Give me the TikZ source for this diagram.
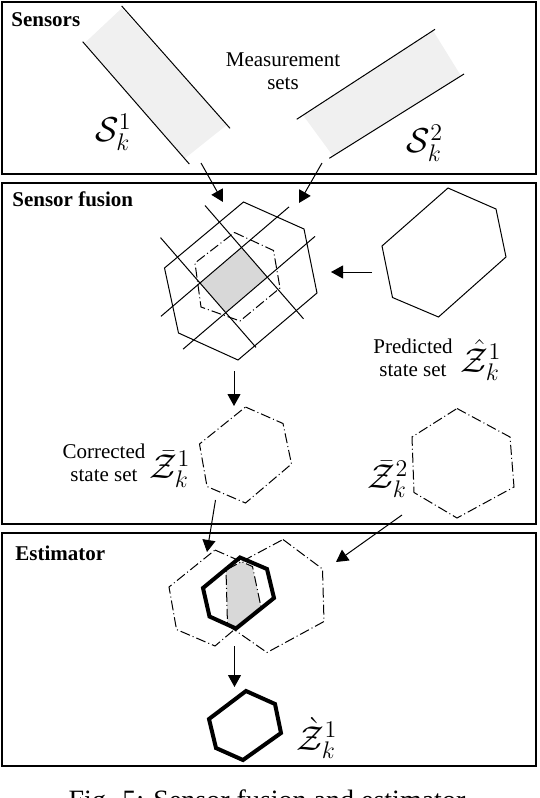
\documentclass[tikz,border=0pt]{standalone}
\usepackage[no-math]{fontspec}
\setmainfont{Liberation Serif}
\usetikzlibrary{arrows.meta}
\definecolor{stripgray}{RGB}{240,240,240}
\definecolor{setgray}{RGB}{216,216,216}
\tikzstyle{panel} = [line width=1.4pt]
\tikzstyle{edge} = [line width=0.5pt]
\tikzstyle{dashdot} = [line width=0.5pt, dash pattern=on 5pt off 1.5pt on 0.5pt off 1.5pt]
\tikzstyle{estimate} = [line width=2pt, line join=miter]
\tikzstyle{arrow} = [line width=0.5pt, -{Triangle[length=6pt,width=6.5pt]}]
\tikzstyle{title} = [anchor=base west, inner sep=0pt, font=\fontsize{10.5}{12}\selectfont\bfseries]
\tikzstyle{note} = [anchor=north, inner sep=0pt, align=center, font=\fontsize{10.5}{11.5}\selectfont]
\tikzstyle{setname} = [inner sep=0pt, font=\fontsize{16.5}{19}\selectfont]

\begin{document}
\begin{tikzpicture}[x=0.5pt, y=-0.5pt]
\useasboundingbox (0,0) rectangle (540,798);

% Panels
\draw[panel] (2,2) rectangle (536,174);
\draw[panel] (2,183) rectangle (536,524);
\draw[panel] (2,533) rectangle (536,766);
\node (sensors) [title] at (11,26) {Sensors};
\node (fusion) [title] at (12,206) {Sensor fusion};
\node (estimator) [title] at (15,560) {Estimator};

% Measurement sets
\fill[stripgray] (85,42.7) -- (121.7,8.3) -- (226.7,125) -- (185,158.3) -- cycle;
\draw[edge] (121.7,6) -- (230,128.3);
\draw[edge] (82.7,41.7) -- (189.3,164);
\fill[stripgray] (303,115.2) -- (433,30.6) -- (461,75.9) -- (333,156) -- cycle;
\draw[edge] (296.7,119.3) -- (435,29.3);
\draw[edge] (329.3,158.3) -- (464,74);
\node (s1) [setname] at (113.5,132) {$\mathcal{S}_k^1$};
\node (s2) [setname] at (425,143) {$\mathcal{S}_k^2$};
\node (meas) [note] at (283,52) {Measurement\\sets};

% Sensor fusion
\draw[edge] (243.5,202) -- (304,229) -- (317,293) -- (238,360) -- (178.5,333) -- (164.5,268) -- cycle;
\fill[setgray] (241.5,247.5) -- (267.5,277) -- (225.8,312.7) -- (200,283) -- cycle;
\draw[dashdot] (234.5,232.5) -- (273.5,250.5) -- (280,288) -- (240,321) -- (201,307) -- (195,263) -- cycle;
\draw[edge] (205,205.5) -- (303.5,318.8);
\draw[edge] (160.5,237.6) -- (256,347.4);
\draw[edge] (289,206.9) -- (161,316.3);
\draw[edge] (315,236.4) -- (183,349.2);
\draw[edge] (448,188) -- (496,209) -- (506,257) -- (438.5,317) -- (392.5,297.5) -- (382,246) -- cycle;
\node (pred) [note] at (413,339) {Predicted\\state set};
\node (zhat) [setname] at (481,360) {$\hat{\mathcal{Z}}_k^1$};

\draw[dashdot] (245.5,407) -- (283,423.5) -- (291.5,464) -- (245.5,503) -- (207,486.5) -- (199.5,444) -- cycle;
\draw[dashdot] (457,408.5) -- (510,437) -- (514,487) -- (457,518) -- (414,492.5) -- (412,437) -- cycle;
\node (corr) [note] at (104,444) {Corrected\\state set};
\node (zbar1) [setname] at (170,469) {$\bar{\mathcal{Z}}_k^1$};
\node (zbar2) [setname] at (388,479) {$\bar{\mathcal{Z}}_k^2$};

% Estimator
\begin{scope}
\clip (215,550) -- (252.5,566.5) -- (261,607) -- (215,646) -- (176.5,629.5) -- (169,587) -- cycle;
\fill[setgray] (283,539.5) -- (322.5,569) -- (324,621.5) -- (267,652.5) -- (227.5,625) -- (226,570) -- cycle;
\end{scope}
\draw[dashdot] (215,550) -- (252.5,566.5) -- (261,607) -- (215,646) -- (176.5,629.5) -- (169,587) -- cycle;
\draw[dashdot] (283,539.5) -- (322.5,569) -- (324,621.5) -- (267,652.5) -- (227.5,625) -- (226,570) -- cycle;
\draw[estimate] (240,557.5) -- (267,569) -- (274,598) -- (236,628.5) -- (209.5,616.5) -- (203,588) -- cycle;
\draw[estimate] (246,691) -- (275,704) -- (281,733) -- (243,760) -- (216,748) -- (209,719) -- cycle;
\node (zgrave) [setname] at (317,738) {$\grave{\mathcal{Z}}_k^1$};

% Arrows
\coordinate (s1out) at (201,163);
\coordinate (s1in) at (223,202);
\coordinate (s2out) at (322,163);
\coordinate (s2in) at (299,203);
\coordinate (predout) at (372,272);
\coordinate (predin) at (331,272);
\coordinate (fuseout) at (234,371);
\coordinate (corrin) at (234,406);
\coordinate (c1out) at (215.5,500);
\coordinate (c1in) at (207,552);
\coordinate (c2out) at (402,515);
\coordinate (c2in) at (336,562);
\coordinate (estout) at (234.5,646);
\coordinate (estin) at (234.5,687);
\draw[arrow] (s1out) -- (s1in);
\draw[arrow] (s2out) -- (s2in);
\draw[arrow] (predout) -- (predin);
\draw[arrow] (fuseout) -- (corrin);
\draw[arrow] (c1out) -- (c1in);
\draw[arrow] (c2out) -- (c2in);
\draw[arrow] (estout) -- (estin);

\node (caption) [anchor=base, inner sep=0pt, font=\fontsize{14}{16}\selectfont] at (267,809) {Fig. 5: Sensor fusion and estimator};
\end{tikzpicture}
\end{document}
